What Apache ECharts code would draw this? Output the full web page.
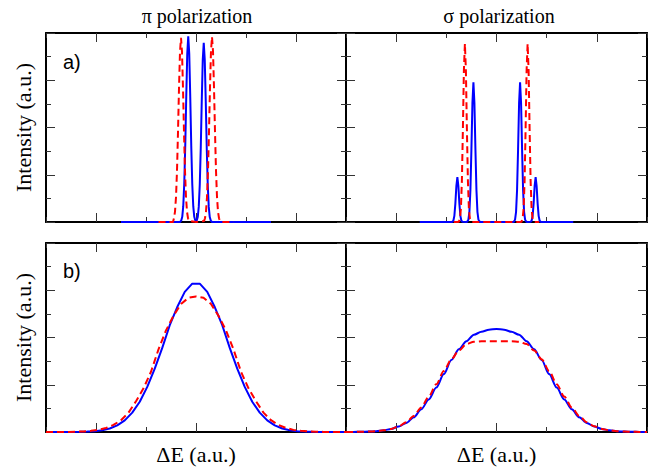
<!DOCTYPE html>
<html><head><meta charset="utf-8">
<script src="https://cdn.jsdelivr.net/npm/echarts@6/dist/echarts.min.js"></script>
<style>html,body{margin:0;padding:0;background:#fff}#c{width:655px;height:469px}</style>
</head><body><div id="c"></div>
<script>
// ---- text ----
const columnTitles = ['π polarization', 'σ polarization'];
const rowLabels = ['a)', 'b)'];
const yAxisName = 'Intensity (a.u.)';
const xAxisName = 'ΔE (a.u.)';
const xMajorTicks = [-2, 0, 2];

// ---- panel a) π : [ΔE, intensity] ----
const piNarrowBlue = [[-1.5,0],[-0.32,0],[-0.295,0.06],[-0.275,0.22],[-0.255,0.67],[-0.235,1.62],[-0.215,3.23],[-0.195,5.30],[-0.175,7.12],[-0.155,7.86],[-0.135,7.12],[-0.115,5.30],[-0.095,3.23],[-0.075,1.62],[-0.055,0.67],[-0.035,0.22],[-0.015,0.07],[0,0.04],[0.015,0.07],[0.035,0.21],[0.055,0.64],[0.075,1.56],[0.095,3.12],[0.115,5.11],[0.135,6.87],[0.155,7.58],[0.175,6.87],[0.195,5.11],[0.215,3.12],[0.235,1.56],[0.255,0.64],[0.275,0.21],[0.295,0.06],[0.32,0],[1.5,0]];
const piNarrowRed = [[-0.75,0],[-0.46,0],[-0.44,0.16],[-0.42,0.44],[-0.40,1.05],[-0.38,2.17],[-0.36,3.80],[-0.34,5.66],[-0.32,7.20],[-0.30,7.80],[-0.28,7.20],[-0.26,5.66],[-0.24,3.80],[-0.22,2.17],[-0.20,1.05],[-0.18,0.44],[-0.16,0.16],[-0.14,0.04],[0,0],[0.16,0.04],[0.18,0.16],[0.20,0.44],[0.22,1.06],[0.24,2.18],[0.26,3.82],[0.28,5.69],[0.30,7.24],[0.32,7.84],[0.34,7.24],[0.36,5.69],[0.38,3.82],[0.40,2.18],[0.42,1.06],[0.44,0.44],[0.46,0.16],[0.48,0.04],[0.5,0],[0.75,0]];

// ---- panel a) σ ----
const sigmaNarrowBlue = [[-1.53,0],[-0.9,0],[-0.88,0.01],[-0.86,0.05],[-0.84,0.26],[-0.82,0.78],[-0.80,1.52],[-0.78,1.90],[-0.76,1.52],[-0.74,0.78],[-0.72,0.26],[-0.70,0.05],[-0.68,0.01],[-0.6,0],[-0.58,0.02],[-0.56,0.10],[-0.54,0.43],[-0.52,1.36],[-0.50,3.07],[-0.48,5.02],[-0.46,5.91],[-0.44,5.02],[-0.42,3.07],[-0.40,1.36],[-0.38,0.43],[-0.36,0.10],[-0.34,0.02],[-0.32,0],[0.33,0],[0.35,0.02],[0.37,0.10],[0.39,0.43],[0.41,1.36],[0.43,3.07],[0.45,5.02],[0.47,5.91],[0.49,5.02],[0.51,3.07],[0.53,1.36],[0.55,0.43],[0.57,0.10],[0.59,0.02],[0.61,0],[0.68,0.01],[0.70,0.05],[0.72,0.26],[0.74,0.78],[0.76,1.52],[0.78,1.90],[0.80,1.52],[0.82,0.78],[0.84,0.26],[0.86,0.05],[0.88,0.01],[0.9,0],[1.53,0]];
const sigmaNarrowRed = [[-0.85,0],[-0.77,0],[-0.75,0.02],[-0.73,0.13],[-0.71,0.55],[-0.69,1.74],[-0.67,3.93],[-0.65,6.42],[-0.63,7.55],[-0.61,6.42],[-0.59,3.93],[-0.57,1.74],[-0.55,0.55],[-0.53,0.13],[-0.51,0.02],[-0.49,0],[0.48,0],[0.50,0.02],[0.52,0.13],[0.54,0.55],[0.56,1.74],[0.58,3.93],[0.60,6.42],[0.62,7.55],[0.64,6.42],[0.66,3.93],[0.68,1.74],[0.70,0.55],[0.72,0.13],[0.74,0.02],[0.76,0],[0.85,0]];

// ---- panel b) ----
const piBroadBlue = [[-3,0],[-2.925,0],[-2.775,0],[-2.625,0.001],[-2.475,0.003],[-2.325,0.007],[-2.175,0.016],[-2.025,0.036],[-1.875,0.075],[-1.725,0.15],[-1.575,0.28],[-1.425,0.49],[-1.275,0.82],[-1.125,1.28],[-0.975,1.91],[-0.825,2.68],[-0.675,3.56],[-0.525,4.52],[-0.375,5.29],[-0.225,5.93],[-0.075,6.28],[0.075,6.28],[0.225,5.93],[0.375,5.29],[0.525,4.52],[0.675,3.56],[0.825,2.68],[0.975,1.91],[1.125,1.28],[1.275,0.82],[1.425,0.49],[1.575,0.28],[1.725,0.15],[1.875,0.075],[2.025,0.036],[2.175,0.016],[2.325,0.007],[2.475,0.003],[2.625,0.001],[2.775,0],[2.925,0],[3,0]];
const broadX = [-3,-2.85,-2.7,-2.55,-2.4,-2.25,-2.1,-1.95,-1.8,-1.65,-1.5,-1.35,-1.2,-1.05,-0.9,-0.75,-0.6,-0.45,-0.3,-0.15,0,0.15,0.3,0.45,0.6,0.75,0.9,1.05,1.2,1.35,1.5,1.65,1.8,1.95,2.1,2.25,2.4,2.55,2.7,2.85,3];
const piBroadRed = [0,0.001,0.002,0.005,0.012,0.025,0.05,0.09,0.17,0.3,0.5,0.82,1.3,1.85,2.55,3.5,4.3,4.92,5.42,5.68,5.74,5.68,5.42,4.92,4.3,3.5,2.55,1.85,1.3,0.82,0.5,0.3,0.17,0.09,0.05,0.025,0.012,0.005,0.002,0.001,0];
const sigmaBroadBlue = [0.001,0.003,0.008,0.017,0.035,0.07,0.13,0.23,0.38,0.62,0.96,1.38,1.88,2.45,3.05,3.50,3.84,4.12,4.24,4.33,4.36,4.33,4.24,4.12,3.84,3.50,3.05,2.45,1.88,1.38,0.96,0.62,0.38,0.23,0.13,0.07,0.035,0.017,0.008,0.003,0.001];
const sigmaBroadRed = [0.001,0.003,0.008,0.017,0.035,0.07,0.13,0.24,0.41,0.68,1.04,1.50,2.02,2.58,3.08,3.45,3.72,3.82,3.84,3.84,3.84,3.84,3.84,3.82,3.72,3.45,3.08,2.58,2.02,1.50,1.04,0.68,0.41,0.24,0.13,0.07,0.035,0.017,0.008,0.003,0.001];

const pair = (xs, ys) => xs.map((x, i) => [x, ys[i]]);

const BLUE = '#0000ff', RED = '#ff0000';
const grids = [
  {left: 46, top: 33, width: 300, height: 189},
  {left: 346, top: 33, width: 301, height: 189},
  {left: 46, top: 243, width: 300, height: 189},
  {left: 346, top: 243, width: 301, height: 189}
];
const panelSeries = [
  {blue: piNarrowBlue, red: piNarrowRed, smooth: false},
  {blue: sigmaNarrowBlue, red: sigmaNarrowRed, smooth: false},
  {blue: piBroadBlue, red: pair(broadX, piBroadRed), smooth: false},
  {blue: pair(broadX, sigmaBroadBlue), red: pair(broadX, sigmaBroadRed), smooth: true}
];

const serif = 'Liberation Serif';
const xAxes = [], yAxes = [], series = [];
grids.forEach((g, gi) => {
  ['bottom', 'top'].forEach(pos => {
    xAxes.push({
      gridIndex: gi, type: 'value', min: -3, max: 3, interval: 1, position: pos,
      axisLine: {show: true, onZero: false, lineStyle: {color: '#000', width: 2}},
      axisTick: {show: true, inside: true, length: 5, lineStyle: {color: '#333', width: 1}},
      axisLabel: {show: false}, splitLine: {show: false},
      name: (pos === 'bottom' && gi >= 2) ? xAxisName : '',
      nameLocation: 'middle', nameGap: 11,
      nameTextStyle: {fontFamily: serif, fontSize: 22, color: '#000', verticalAlign: 'top'}
    });
    xAxes.push({
      gridIndex: gi, type: 'value', min: -3, max: 3, interval: 1, position: pos,
      axisLine: {show: false, onZero: false},
      axisTick: {show: true, inside: true, length: 9, customValues: xMajorTicks, lineStyle: {color: '#333', width: 1}},
      axisLabel: {show: false}, splitLine: {show: false}
    });
  });
  ['left', 'right'].forEach(pos => {
    yAxes.push({
      gridIndex: gi, type: 'value', min: 0, max: 8, interval: 2, position: pos,
      axisLine: {show: true, onZero: false, lineStyle: {color: '#000', width: 2}},
      axisTick: {show: true, inside: true, length: 9, lineStyle: {color: '#333', width: 1}},
      minorTick: {show: true, splitNumber: 2, length: 5, lineStyle: {color: '#333', width: 1}},
      axisLabel: {show: false}, splitLine: {show: false}, minorSplitLine: {show: false},
      name: (pos === 'left' && gi % 2 === 0) ? yAxisName : '',
      nameLocation: 'middle', nameGap: 12, nameRotate: 90,
      nameTextStyle: {fontFamily: serif, fontSize: 22, color: '#000'}
    });
  });
  const ps = panelSeries[gi];
  series.push({
    type: 'line', xAxisIndex: gi * 4, yAxisIndex: gi * 2, data: ps.blue,
    showSymbol: false, symbol: 'none', smooth: ps.smooth ? 0.3 : false, smoothMonotone: 'x',
    lineStyle: {color: BLUE, width: 2, type: 'solid'}, z: 3
  });
  series.push({
    type: 'line', xAxisIndex: gi * 4, yAxisIndex: gi * 2, data: ps.red,
    showSymbol: false, symbol: 'none', smooth: ps.smooth ? 0.3 : false, smoothMonotone: 'x',
    lineStyle: {color: RED, width: 2, type: [7, 4]}, z: 4
  });
});

const graphic = [
  {type: 'text', x: 197, y: 16, style: {text: columnTitles[0], font: '20px "Liberation Serif"', fill: '#000', textAlign: 'center', textVerticalAlign: 'middle'}},
  {type: 'text', x: 499, y: 16, style: {text: columnTitles[1], font: '20px "Liberation Serif"', fill: '#000', textAlign: 'center', textVerticalAlign: 'middle'}},
  {type: 'text', x: 63, y: 62, style: {text: rowLabels[0], font: '20px "Liberation Sans"', fill: '#000', textAlign: 'left', textVerticalAlign: 'middle'}},
  {type: 'text', x: 63, y: 271, style: {text: rowLabels[1], font: '20px "Liberation Sans"', fill: '#000', textAlign: 'left', textVerticalAlign: 'middle'}}
];

const chart = echarts.init(document.getElementById('c'), null, {renderer: 'svg'});
chart.setOption({
  animation: false,
  backgroundColor: '#fff',
  grid: grids,
  xAxis: xAxes,
  yAxis: yAxes,
  series: series,
  graphic: graphic
});
</script>
</body></html>
